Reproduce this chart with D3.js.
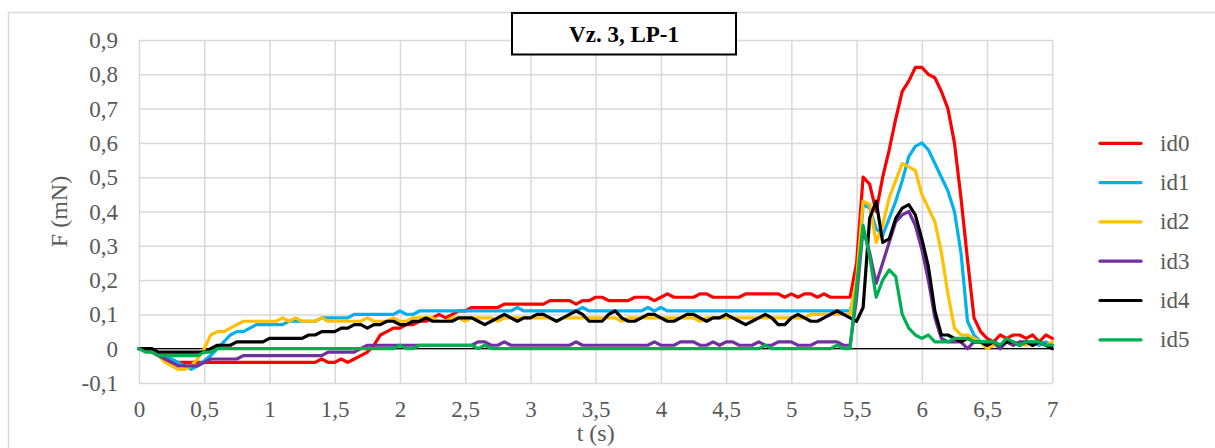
<!DOCTYPE html>
<html>
<head>
<meta charset="utf-8">
<script src="https://cdn.jsdelivr.net/npm/d3@7"></script>
<style>
  html, body { margin: 0; padding: 0; background: #fff; }
  svg { display: block; }
  text { font-family: "Liberation Serif", "Times New Roman", serif; }
</style>
</head>
<body>
<svg id="chart" width="1215" height="448"></svg>
<script>
// Force readings F (mN), sampled every 0.05 s from 0 to 7 s
const sampleStep = 0.05;

const id0 = [
  0, 0, -0.01, -0.02, -0.03, -0.04, -0.04, -0.04, -0.04, -0.04,
  -0.04, -0.04, -0.04, -0.04, -0.04, -0.04, -0.04, -0.04, -0.04, -0.04,
  -0.04, -0.04, -0.04, -0.04, -0.04, -0.04, -0.04, -0.04, -0.03, -0.04,
  -0.04, -0.03, -0.04, -0.03, -0.02, -0.01, 0.01, 0.04, 0.05, 0.06,
  0.06, 0.07, 0.07, 0.08, 0.08, 0.09, 0.10, 0.09, 0.10, 0.11,
  0.11, 0.12, 0.12, 0.12, 0.12, 0.12, 0.13, 0.13, 0.13, 0.13,
  0.13, 0.13, 0.13, 0.14, 0.14, 0.14, 0.14, 0.13, 0.14, 0.14,
  0.15, 0.15, 0.14, 0.14, 0.14, 0.14, 0.15, 0.15, 0.15, 0.14,
  0.15, 0.16, 0.15, 0.15, 0.15, 0.15, 0.16, 0.16, 0.15, 0.15,
  0.15, 0.15, 0.15, 0.16, 0.16, 0.16, 0.16, 0.16, 0.16, 0.15,
  0.16, 0.15, 0.16, 0.16, 0.15, 0.16, 0.15, 0.15, 0.15, 0.15,
  0.25, 0.50, 0.48, 0.40, 0.50, 0.58, 0.67, 0.75, 0.78, 0.82,
  0.82, 0.80, 0.79, 0.75, 0.70, 0.60, 0.44, 0.26, 0.09, 0.05,
  0.03, 0.02, 0.04, 0.03, 0.04, 0.04, 0.03, 0.04, 0.02, 0.04, 0.03
];

const id1 = [
  0, 0, -0.01, -0.02, -0.025, -0.03, -0.04, -0.05, -0.06, -0.05,
  -0.035, -0.02, 0.0, 0.02, 0.04, 0.05, 0.05, 0.06, 0.07, 0.07,
  0.07, 0.07, 0.07, 0.08, 0.08, 0.08, 0.08, 0.08, 0.09, 0.09,
  0.09, 0.09, 0.09, 0.10, 0.10, 0.10, 0.10, 0.10, 0.10, 0.10,
  0.11, 0.10, 0.10, 0.11, 0.11, 0.11, 0.11, 0.11, 0.11, 0.11,
  0.11, 0.11, 0.11, 0.11, 0.11, 0.11, 0.11, 0.11, 0.12, 0.11,
  0.11, 0.11, 0.11, 0.11, 0.11, 0.11, 0.11, 0.11, 0.12, 0.11,
  0.11, 0.11, 0.11, 0.11, 0.11, 0.11, 0.11, 0.11, 0.12, 0.11,
  0.12, 0.11, 0.11, 0.11, 0.11, 0.11, 0.11, 0.11, 0.11, 0.11,
  0.11, 0.11, 0.11, 0.11, 0.11, 0.11, 0.11, 0.11, 0.11, 0.11,
  0.11, 0.11, 0.11, 0.11, 0.11, 0.11, 0.11, 0.11, 0.11, 0.11,
  0.18, 0.42, 0.41, 0.35, 0.33, 0.38, 0.43, 0.49, 0.56, 0.59,
  0.60, 0.58, 0.54, 0.50, 0.46, 0.40, 0.28, 0.08, 0.04, 0.02,
  0.02, 0.02, 0.01, 0.02, 0.02, 0.01, 0.02, 0.02, 0.01, 0.02, 0.01
];

const id2 = [
  0, 0, -0.01, -0.02, -0.04, -0.05, -0.06, -0.06, -0.05, -0.03,
  0.0, 0.04, 0.05, 0.05, 0.06, 0.07, 0.08, 0.08, 0.08, 0.08,
  0.08, 0.08, 0.09, 0.08, 0.09, 0.08, 0.08, 0.08, 0.09, 0.08,
  0.08, 0.08, 0.08, 0.08, 0.08, 0.09, 0.08, 0.08, 0.08, 0.09,
  0.08, 0.08, 0.09, 0.09, 0.09, 0.09, 0.08, 0.08, 0.09, 0.09,
  0.08, 0.09, 0.09, 0.09, 0.09, 0.08, 0.09, 0.09, 0.09, 0.09,
  0.09, 0.09, 0.09, 0.09, 0.08, 0.09, 0.09, 0.09, 0.09, 0.09,
  0.09, 0.09, 0.09, 0.09, 0.08, 0.09, 0.09, 0.09, 0.09, 0.09,
  0.09, 0.09, 0.09, 0.09, 0.09, 0.09, 0.08, 0.09, 0.09, 0.09,
  0.09, 0.09, 0.09, 0.09, 0.09, 0.09, 0.09, 0.09, 0.09, 0.09,
  0.09, 0.09, 0.09, 0.10, 0.10, 0.10, 0.10, 0.10, 0.10, 0.10,
  0.20, 0.43, 0.42, 0.31, 0.36, 0.44, 0.49, 0.54, 0.53, 0.52,
  0.45, 0.41, 0.37, 0.28, 0.16, 0.06, 0.04, 0.04, 0.03, 0.02,
  0.00, 0.01, 0.01, 0.02, 0.01, 0.02, 0.01, 0.02, 0.02, 0.01, 0.02
];

const id3 = [
  0, 0, -0.01, -0.02, -0.03, -0.04, -0.05, -0.05, -0.05, -0.05,
  -0.04, -0.03, -0.03, -0.03, -0.03, -0.03, -0.02, -0.02, -0.02, -0.02,
  -0.02, -0.02, -0.02, -0.02, -0.02, -0.02, -0.02, -0.02, -0.02, -0.01,
  -0.01, -0.01, -0.01, -0.01, 0.0, 0.01, 0.01, 0.01, 0.01, 0.01,
  0.01, 0.01, 0.01, 0.01, 0.01, 0.01, 0.01, 0.01, 0.01, 0.01,
  0.01, 0.01, 0.02, 0.02, 0.01, 0.01, 0.02, 0.01, 0.01, 0.01,
  0.01, 0.01, 0.01, 0.01, 0.01, 0.01, 0.01, 0.02, 0.01, 0.01,
  0.01, 0.01, 0.01, 0.01, 0.01, 0.01, 0.01, 0.01, 0.01, 0.02,
  0.01, 0.01, 0.01, 0.02, 0.02, 0.02, 0.01, 0.01, 0.02, 0.01,
  0.02, 0.02, 0.01, 0.01, 0.01, 0.02, 0.01, 0.01, 0.02, 0.02,
  0.02, 0.01, 0.01, 0.01, 0.02, 0.02, 0.02, 0.02, 0.01, 0.01,
  0.15, 0.35, 0.28, 0.19, 0.25, 0.31, 0.37, 0.39, 0.40, 0.36,
  0.29, 0.20, 0.09, 0.03, 0.02, 0.02, 0.02, 0.00, 0.02, 0.02,
  0.01, 0.02, 0.00, 0.02, 0.01, 0.02, 0.02, 0.01, 0.02, 0.01, 0.01
];

const id4 = [
  0, 0, 0, -0.01, -0.01, -0.01, -0.01, -0.01, -0.01, -0.01,
  -0.01, 0.0, 0.01, 0.01, 0.01, 0.02, 0.02, 0.02, 0.02, 0.02,
  0.03, 0.03, 0.03, 0.03, 0.03, 0.03, 0.04, 0.04, 0.05, 0.05,
  0.05, 0.06, 0.06, 0.07, 0.07, 0.06, 0.07, 0.07, 0.08, 0.08,
  0.07, 0.07, 0.08, 0.08, 0.09, 0.08, 0.08, 0.08, 0.08, 0.09,
  0.09, 0.09, 0.08, 0.07, 0.08, 0.09, 0.10, 0.09, 0.08, 0.09,
  0.09, 0.10, 0.10, 0.09, 0.08, 0.09, 0.10, 0.11, 0.10, 0.08,
  0.08, 0.08, 0.10, 0.11, 0.09, 0.08, 0.08, 0.09, 0.10, 0.10,
  0.09, 0.08, 0.08, 0.09, 0.10, 0.10, 0.09, 0.08, 0.09, 0.09,
  0.10, 0.09, 0.08, 0.07, 0.08, 0.09, 0.10, 0.09, 0.07, 0.07,
  0.09, 0.10, 0.09, 0.08, 0.08, 0.09, 0.10, 0.11, 0.10, 0.09,
  0.08, 0.12, 0.38, 0.43, 0.31, 0.32, 0.38, 0.41, 0.42, 0.39,
  0.32, 0.24, 0.11, 0.04, 0.04, 0.03, 0.02, 0.03, 0.02, 0.02,
  0.01, 0.02, 0.01, 0.02, 0.02, 0.01, 0.02, 0.01, 0.02, 0.01, 0.00
];

const id5 = [
  0, -0.01, -0.01, -0.02, -0.02, -0.02, -0.02, -0.02, -0.02, -0.02,
  -0.01, -0.01, 0, 0, 0, 0, 0, 0, 0, 0,
  0, 0, 0, 0, 0, 0, 0, 0, 0, 0,
  0, 0, 0, 0, 0, 0, 0, 0, 0, 0,
  0.01, 0, 0, 0.01, 0.01, 0.01, 0.01, 0.01, 0.01, 0.01,
  0.01, 0.01, 0, 0.01, 0, 0, 0, 0, 0, 0,
  0, 0, 0, 0, 0, 0, 0, 0, 0, 0,
  0, 0, 0, 0, 0, 0, 0, 0, 0, 0,
  0, 0, 0, 0, 0, 0, 0, 0, 0, 0,
  0, 0, 0, 0, 0, 0, 0.01, 0, 0, 0,
  0, 0, 0, 0, 0, 0, 0, 0.01, 0, 0,
  0.18, 0.36, 0.27, 0.15, 0.20, 0.23, 0.21, 0.10, 0.06, 0.04,
  0.03, 0.04, 0.02, 0.02, 0.02, 0.03, 0.03, 0.03, 0.02, 0.02,
  0.02, 0.02, 0.01, 0.03, 0.02, 0.01, 0.02, 0.02, 0.02, 0.01, 0.01
];

const seriesNames = ["id0", "id1", "id2", "id3", "id4", "id5"];
const seriesColors = ["#FF0000", "#00B0F0", "#FFC000", "#7030A0", "#000000", "#00B050"];
const seriesValues = [id0, id1, id2, id3, id4, id5];

const xTickValues = [0, 0.5, 1, 1.5, 2, 2.5, 3, 3.5, 4, 4.5, 5, 5.5, 6, 6.5, 7];
const xTickLabels = ["0", "0,5", "1", "1,5", "2", "2,5", "3", "3,5", "4", "4,5", "5", "5,5", "6", "6,5", "7"];
const yTickValues = [-0.1, 0, 0.1, 0.2, 0.3, 0.4, 0.5, 0.6, 0.7, 0.8, 0.9];
const yTickLabels = ["-0,1", "0", "0,1", "0,2", "0,3", "0,4", "0,5", "0,6", "0,7", "0,8", "0,9"];

const chartTitle = "Vz. 3, LP-1";
const xTitle = "t (s)";
const yTitle = "F (mN)";

// ---- layout ----
const serif = '"Liberation Serif", "Times New Roman", serif';
const svg = d3.select("#chart");
const plot = { left: 139, right: 1052.3, top: 40, bottom: 383 };
const gridColor = "#D9D9D9";
const textColor = "#595959";
const fontSize = 23;

const x = d3.scaleLinear().domain([0, 7]).range([plot.left, plot.right]);
const y = d3.scaleLinear().domain([-0.1, 0.9]).range([plot.bottom, plot.top]);

// outer chart frame
svg.append("rect")
  .attr("x", 8.5).attr("y", 12.5)
  .attr("width", 1400).attr("height", 600)
  .attr("fill", "#fff")
  .attr("stroke", gridColor).attr("stroke-width", 1.5);

// horizontal gridlines + value labels
const yAxis = d3.axisLeft(y)
  .tickValues(yTickValues)
  .tickSize(-(plot.right - plot.left))
  .tickFormat((d, i) => yTickLabels[i]);
const gy = svg.append("g")
  .attr("transform", `translate(${plot.left},0)`)
  .attr("font-family", serif)
  .call(yAxis);
gy.attr("font-family", serif);
gy.select(".domain").remove();
gy.selectAll(".tick line").attr("stroke", gridColor).attr("stroke-width", 1.5);
gy.selectAll(".tick text")
  .attr("x", -21).attr("dy", null).attr("dominant-baseline", "central")
  .attr("fill", textColor).style("font-size", fontSize + "px")
  .style("font-family", serif);

// vertical gridlines + time labels
const xAxis = d3.axisBottom(x)
  .tickValues(xTickValues)
  .tickSize(-(plot.bottom - plot.top))
  .tickFormat((d, i) => xTickLabels[i]);
const gx = svg.append("g")
  .attr("transform", `translate(0,${plot.bottom})`)
  .call(xAxis);
gx.attr("font-family", serif);
gx.select(".domain").remove();
gx.selectAll(".tick line").attr("stroke", gridColor).attr("stroke-width", 1.5);
gx.selectAll(".tick text")
  .attr("y", 0).attr("dy", null).attr("transform", "translate(0,34)")
  .attr("fill", textColor).style("font-size", fontSize + "px")
  .style("font-family", serif);

// zero line
svg.append("line")
  .attr("x1", x(0)).attr("x2", x(7))
  .attr("y1", y(0)).attr("y2", y(0))
  .attr("stroke", "#000").attr("stroke-width", 1.3);

// series
const line = d3.line()
  .x((d, i) => x(i * sampleStep))
  .y(d => y(d));

seriesValues.forEach((vals, k) => {
  svg.append("path")
    .datum(vals)
    .attr("d", line)
    .attr("fill", "none")
    .attr("stroke", seriesColors[k])
    .attr("stroke-width", 3.2)
    .attr("stroke-linejoin", "round")
    .attr("stroke-linecap", "round");
});

// title box
svg.append("rect")
  .attr("x", 512).attr("y", 13)
  .attr("width", 224).attr("height", 41.5)
  .attr("fill", "#fff")
  .attr("stroke", "#000").attr("stroke-width", 2);
svg.append("text")
  .attr("x", 624).attr("y", 34)
  .attr("text-anchor", "middle").attr("dominant-baseline", "central")
  .style("font-size", "23px").style("font-weight", "bold")
  .style("font-family", serif)
  .attr("fill", "#000")
  .text(chartTitle);

// axis titles
svg.append("text")
  .attr("x", (plot.left + plot.right) / 2).attr("y", 433)
  .attr("text-anchor", "middle").attr("dominant-baseline", "central")
  .style("font-size", "24px").style("font-family", serif).attr("fill", textColor)
  .text(xTitle);
svg.append("text")
  .attr("transform", `translate(59,${(plot.top + plot.bottom) / 2}) rotate(-90)`)
  .attr("text-anchor", "middle").attr("dominant-baseline", "central")
  .style("font-size", "24px").style("font-family", serif).attr("fill", textColor)
  .text(yTitle);

// legend
const legend = svg.append("g");
seriesNames.forEach((name, k) => {
  const ly = 143.3 + k * 39.3;
  legend.append("line")
    .attr("x1", 1100).attr("x2", 1141)
    .attr("y1", ly).attr("y2", ly)
    .attr("stroke", seriesColors[k]).attr("stroke-width", 3.2)
    .attr("stroke-linecap", "round");
  legend.append("text")
    .attr("x", 1160).attr("y", ly)
    .attr("dominant-baseline", "central")
    .style("font-size", fontSize + "px").style("font-family", serif).attr("fill", textColor)
    .text(name);
});
</script>
</body>
</html>
